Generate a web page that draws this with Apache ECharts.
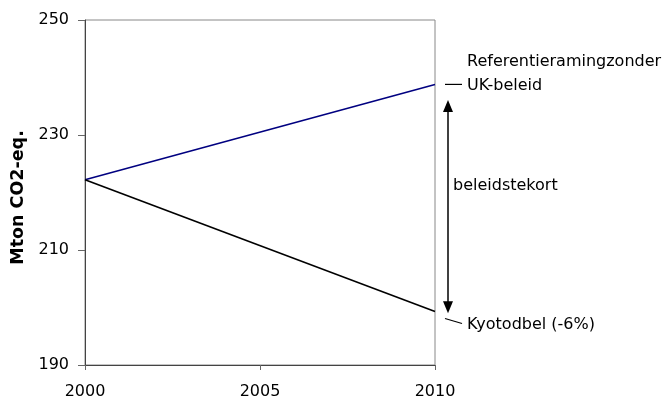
<!DOCTYPE html>
<html><head><meta charset="utf-8">
<script src="https://cdn.jsdelivr.net/npm/echarts@6/dist/echarts.min.js"></script>
<style>html,body{margin:0;padding:0;background:#fff}#c{width:669px;height:400px}</style>
</head><body><div id="c"></div>
<script>
const years = [2000, 2010];
const referentie = [222.2, 238.8];
const kyoto = [222.2, 199.3];
const yTicks = [190, 210, 230, 250];
const xTicks = [2000, 2005, 2010];
const yTitle = 'Mton CO2-eq.';
const labelRef1 = 'Referentieramingzonder';
const labelRef2 = 'UK-beleid';
const labelKyoto = 'Kyotodbel (-6%)';
const labelGap = 'beleidstekort';
const gapArrow = [236.1, 199.0];

const FONT = 'DejaVu Sans';
const chart = echarts.init(document.getElementById('c'), null, {renderer: 'canvas'});
chart.setOption({
  animation: false,
  backgroundColor: '#fff',
  grid: {left: 85, right: 234, top: 20, bottom: 35, containLabel: false, outerBoundsMode: 'none', show: true, borderColor: '#888', borderWidth: 1, backgroundColor: 'transparent'},
  xAxis: {
    type: 'value', min: xTicks[0], max: xTicks[xTicks.length - 1], interval: xTicks[1] - xTicks[0],
    axisLine: {lineStyle: {color: '#444', width: 1}},
    axisTick: {show: true, length: 5, lineStyle: {color: '#666'}},
    splitLine: {show: false},
    axisLabel: {color: '#000', fontFamily: FONT, fontSize: 16, margin: 19, formatter: v => String(v)}
  },
  yAxis: {
    type: 'value', min: yTicks[0], max: yTicks[yTicks.length - 1], interval: yTicks[1] - yTicks[0],
    axisLine: {show: true, lineStyle: {color: '#444', width: 1}},
    axisTick: {show: true, length: 7, lineStyle: {color: '#666'}},
    splitLine: {show: false},
    axisLabel: {color: '#000', fontFamily: FONT, fontSize: 16, margin: 16, padding: [7, 0, 0, 0]},
    name: yTitle, nameLocation: 'middle', nameRotate: 90, nameGap: 57,
    nameTextStyle: {fontFamily: FONT, fontWeight: 'bold', fontSize: 17.5, color: '#000', padding: [0, 0, 0, -10]}
  },
  series: [
    {type: 'line', symbol: 'none', data: years.map((y, i) => [y, referentie[i]]), lineStyle: {color: '#000080', width: 1.6}},
    {type: 'line', symbol: 'none', data: years.map((y, i) => [y, kyoto[i]]), lineStyle: {color: '#000', width: 1.6}}
  ]
});

const px = (x, y) => chart.convertToPixel({gridIndex: 0}, [x, y]);
const endX = px(years[1], referentie[1])[0];
const refEnd = px(years[1], referentie[1]);
const kyEnd = px(years[1], kyoto[1]);
const aTop = px(years[1], gapArrow[0]);
const aBot = px(years[1], gapArrow[1]);
const ax = endX + 13;
const ts = {fontFamily: FONT, fontSize: 16, fill: '#000'};
chart.setOption({
  graphic: [
    {type: 'line', shape: {x1: ax, y1: aTop[1] + 10, x2: ax, y2: aBot[1] - 10}, style: {stroke: '#000', lineWidth: 1.5}},
    {type: 'polygon', shape: {points: [[ax, aTop[1]], [ax - 5, aTop[1] + 12], [ax + 5, aTop[1] + 12]]}, style: {fill: '#000'}},
    {type: 'polygon', shape: {points: [[ax, aBot[1]], [ax - 5, aBot[1] - 12], [ax + 5, aBot[1] - 12]]}, style: {fill: '#000'}},
    {type: 'line', shape: {x1: endX + 10, y1: refEnd[1], x2: endX + 27, y2: refEnd[1]}, style: {stroke: '#000', lineWidth: 1.2}},
    {type: 'line', shape: {x1: endX + 10, y1: kyEnd[1] + 7, x2: endX + 27, y2: kyEnd[1] + 12}, style: {stroke: '#000', lineWidth: 1.2}},
    {type: 'text', x: endX + 32, y: refEnd[1] - 23, style: Object.assign({text: labelRef1, textVerticalAlign: 'middle'}, ts)},
    {type: 'text', x: endX + 32, y: refEnd[1] + 1, style: Object.assign({text: labelRef2, textVerticalAlign: 'middle'}, ts)},
    {type: 'text', x: endX + 32, y: kyEnd[1] + 13, style: Object.assign({text: labelKyoto, textVerticalAlign: 'middle'}, ts)},
    {type: 'text', x: ax + 5, y: (aTop[1] + aBot[1]) / 2 - 21, style: Object.assign({text: labelGap, textVerticalAlign: 'middle'}, ts)}
  ]
});
</script></body></html>
